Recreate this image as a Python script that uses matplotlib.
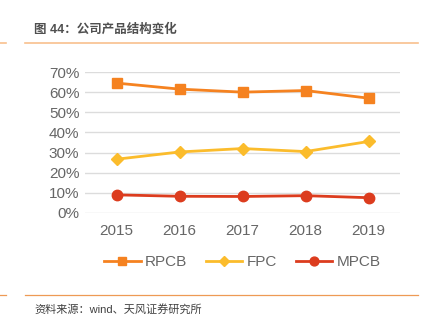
import matplotlib.pyplot as plt
from matplotlib.lines import Line2D

plt.rcParams['font.family'] = ['Liberation Sans', 'Noto Sans CJK SC', 'DejaVu Sans']

years = ['2015', '2016', '2017', '2018', '2019']
rpcb = [64.5, 61.5, 60.0, 60.8, 57.0]
fpc = [26.7, 30.3, 32.0, 30.5, 35.5]
mpcb = [9.0, 8.3, 8.2, 8.6, 7.6]
yticks = [0, 10, 20, 30, 40, 50, 60, 70]

W, H = 423, 327
fig = plt.figure(figsize=(W / 100, H / 100), dpi=100)

# axes: x from 85 to 400 px, y from 213 (0%) to 72 (70%)
ax = fig.add_axes([85 / W, 1 - 213 / H, (400 - 85) / W, (213 - 72) / H])
x = range(len(years))
ax.plot(x, rpcb, color='#F58220', lw=2, marker='s', ms=7, label='RPCB', zorder=3)
ax.plot(x, fpc, color='#FBBC2C', lw=2, marker='D', ms=6, label='FPC', zorder=3)
ax.plot(x, mpcb, color='#DC3C1E', lw=2, marker='o', ms=7.5, label='MPCB', zorder=3)

ax.set_xlim(-0.5, 4.5)
ax.set_ylim(0, 70)
ax.set_yticks(yticks)
ax.set_yticklabels([f'{v}%' for v in yticks])
ax.set_xticks(list(x))
ax.set_xticklabels(years)
ax.grid(axis='y', color='#dcdcdc', lw=1)
ax.set_axisbelow(True)
for s in ax.spines.values():
    s.set_visible(False)
ax.tick_params(length=0, colors='#666666', labelsize=11)
ax.tick_params(axis='x', pad=8)
ax.tick_params(axis='y', pad=4)

ax.legend(loc='center', bbox_to_anchor=(0.5, (213 - 262) / (213 - 72)),
          ncol=3, frameon=False, fontsize=11, labelcolor='#666666',
          handlelength=2.4, handletextpad=0.3, columnspacing=1.2, markerscale=0.85)

# title and decorative rules
fig.text(34 / W, 1 - 30 / H, '图 44：公司产品结构变化', fontsize=9, fontweight='bold',
         color='#505050', va='center', ha='left')
fig.add_artist(Line2D([25 / W, 418 / W], [1 - 43 / H] * 2, color='#F8C08E', lw=1.2))
fig.add_artist(Line2D([0, 6 / W], [1 - 43 / H] * 2, color='#F8C08E', lw=1.2))
fig.add_artist(Line2D([25 / W, 418 / W], [1 - 295 / H] * 2, color='#EE9A55', lw=0.9))
fig.add_artist(Line2D([0, 6 / W], [1 - 295 / H] * 2, color='#EE9A55', lw=0.9))
fig.text(34 / W, 1 - 309 / H, '资料来源：wind、天风证券研究所', fontsize=8,
         color='#404040', va='center', ha='left')

fig.savefig('out.png', dpi=100)
